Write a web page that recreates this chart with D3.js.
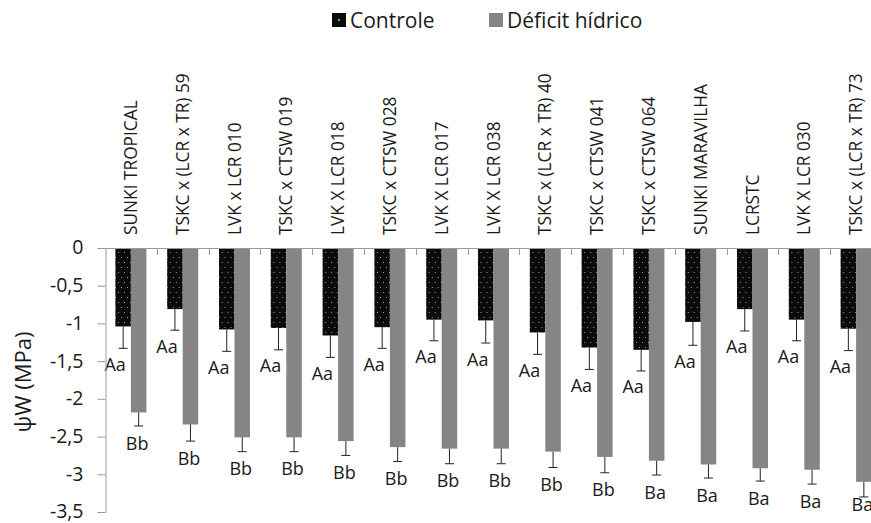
<!DOCTYPE html>
<html>
<head>
<meta charset="utf-8">
<script src="https://cdn.jsdelivr.net/npm/d3@7"></script>
<style>
  html, body { margin: 0; padding: 0; background: #fff; }
  svg { display: block; font-family: "Open Sans", sans-serif; }
</style>
</head>
<body>
<svg id="chart" width="871" height="523"></svg>
<script>
// Leaf water potential (ψW) per genotype, control vs. water deficit
const categories = [
  "SUNKI TROPICAL", "TSKC x (LCR x TR) 59", "LVK x LCR 010", "TSKC x CTSW 019",
  "LVK X LCR 018", "TSKC x CTSW 028", "LVK X LCR 017", "LVK X LCR 038",
  "TSKC x (LCR x TR) 40", "TSKC x CTSW 041", "TSKC x CTSW 064", "SUNKI MARAVILHA",
  "LCRSTC", "LVK X LCR 030", "TSKC x (LCR x TR) 73"
];
const seriesNames = ["Controle", "Déficit hídrico"];
const controle =      [-1.04, -0.81, -1.08, -1.06, -1.16, -1.05, -0.95, -0.96, -1.12, -1.32, -1.35, -0.98, -0.81, -0.95, -1.07];
const controleErr =   [0.29, 0.28, 0.29, 0.29, 0.29, 0.28, 0.28, 0.30, 0.29, 0.29, 0.28, 0.31, 0.29, 0.28, 0.29];
const deficit =       [-2.18, -2.34, -2.51, -2.51, -2.56, -2.64, -2.66, -2.66, -2.70, -2.77, -2.82, -2.87, -2.92, -2.94, -3.10];
const deficitErr =    [0.18, 0.22, 0.19, 0.19, 0.19, 0.19, 0.20, 0.20, 0.21, 0.21, 0.19, 0.18, 0.17, 0.19, 0.20];
const controleLetters = ["Aa", "Aa", "Aa", "Aa", "Aa", "Aa", "Aa", "Aa", "Aa", "Aa", "Aa", "Aa", "Aa", "Aa", "Aa"];
const deficitLetters  = ["Bb", "Bb", "Bb", "Bb", "Bb", "Bb", "Bb", "Bb", "Bb", "Bb", "Ba", "Ba", "Ba", "Ba", "Ba"];
const yTicks = [0, -0.5, -1, -1.5, -2, -2.5, -3, -3.5];
const yTitle = "ψW (MPa)";

const seriesValues = [controle, deficit];
const seriesErr = [controleErr, deficitErr];
const seriesLetters = [controleLetters, deficitLetters];

const W = 871, H = 523;
const svg = d3.select("#chart");
const TEXT = "#1a1a1a";
const AXIS = "#9a9a9a";
const GRAY = "#858585";

// dotted black fill for the control series
const defs = svg.append("defs");
const pat = defs.append("pattern")
  .attr("id", "dots").attr("patternUnits", "userSpaceOnUse")
  .attr("width", 6).attr("height", 10);
pat.append("rect").attr("width", 6).attr("height", 10).attr("fill", "#0b0b0b");
pat.append("rect").attr("x", 1).attr("y", 2).attr("width", 1).attr("height", 1).attr("fill", "#9a9a9a");
pat.append("rect").attr("x", 4).attr("y", 7).attr("width", 1).attr("height", 1).attr("fill", "#9a9a9a");
const fills = ["url(#dots)", GRAY];

// scales
const plotLeft = 105, plotTop = 248, plotBottom = 512;
const step = 51.8;
const x = d3.scaleBand().domain(categories)
  .range([plotLeft, plotLeft + step * categories.length]).paddingInner(0).paddingOuter(0);
const xs = d3.scaleBand().domain(seriesNames).range([0, x.bandwidth()])
  .paddingInner(0).paddingOuter(0.67);
const y = d3.scaleLinear().domain([0, -3.5]).range([plotTop, plotBottom]);

const locale = d3.formatLocale({ decimal: ",", thousands: ".", grouping: [3], currency: ["", ""], minus: "-" });
const fmt = locale.format("~g");

// bars
const groups = svg.append("g").selectAll("g")
  .data(categories).join("g")
  .attr("transform", d => `translate(${x(d)},0)`);

seriesNames.forEach((s, si) => {
  groups.append("rect")
    .attr("x", xs(s))
    .attr("y", y(0))
    .attr("width", xs.bandwidth())
    .attr("height", (d, i) => y(seriesValues[si][i]) - y(0))
    .attr("fill", fills[si]);
});

// x axis (at zero, ticks between categories pointing down)
const xAxisG = svg.append("g");
xAxisG.append("line")
  .attr("x1", plotLeft).attr("x2", W + 20)
  .attr("y1", y(0) + 0.5).attr("y2", y(0) + 0.5)
  .attr("stroke", AXIS).attr("stroke-width", 1);
xAxisG.selectAll("line.tick")
  .data(categories.slice(1)).join("line")
  .attr("class", "tick")
  .attr("x1", d => Math.round(x(d)) + 0.5).attr("x2", d => Math.round(x(d)) + 0.5)
  .attr("y1", y(0)).attr("y2", y(0) + 7)
  .attr("stroke", AXIS);

// error bars (minus direction only)
seriesNames.forEach((s, si) => {
  const eg = groups.append("g")
    .attr("stroke", "#222").attr("stroke-width", 1);
  const cx = xs(s) + xs.bandwidth() / 2;
  eg.append("line")
    .attr("x1", cx).attr("x2", cx)
    .attr("y1", (d, i) => y(seriesValues[si][i]))
    .attr("y2", (d, i) => y(seriesValues[si][i] - seriesErr[si][i]));
  eg.append("line")
    .attr("x1", cx - 4.5).attr("x2", cx + 4.5)
    .attr("y1", (d, i) => y(seriesValues[si][i] - seriesErr[si][i]))
    .attr("y2", (d, i) => y(seriesValues[si][i] - seriesErr[si][i]));
});

// significance letters below each error bar, kept inside the chart area
const letterDx = [-8, -1.5];
const letterDy = [22.5, 23.5];
const letterMaxBaseline = H - 12;
seriesNames.forEach((s, si) => {
  const cx = xs(s) + xs.bandwidth() / 2;
  groups.append("text")
    .attr("x", cx + letterDx[si])
    .attr("y", (d, i) => Math.min(letterMaxBaseline,
      y(seriesValues[si][i] - seriesErr[si][i]) + letterDy[si]))
    .attr("text-anchor", "middle")
    .attr("font-size", 18)
    .attr("fill", TEXT)
    .text((d, i) => seriesLetters[si][i]);
});

// y axis
const yAxis = d3.axisLeft(y).tickValues(yTicks).tickFormat(fmt).tickSize(8).tickSizeOuter(0);
const yAxisG = svg.append("g")
  .attr("transform", `translate(${plotLeft + 0.5},0)`)
  .call(yAxis);
yAxisG.select(".domain").attr("stroke", AXIS);
yAxisG.selectAll(".tick line").attr("stroke", AXIS);
yAxisG.selectAll(".tick text")
  .attr("x", -22)
  .attr("dy", "0.3em")
  .attr("font-family", "Open Sans, sans-serif")
  .attr("font-size", 19.5)
  .attr("fill", TEXT);

svg.append("text")
  .attr("transform", `translate(31,${(plotTop + plotBottom) / 2 + 2}) rotate(-90)`)
  .attr("text-anchor", "middle")
  .attr("font-size", 22)
  .attr("fill", TEXT)
  .text(yTitle);

// category labels, vertical, above the zero line
svg.append("g").selectAll("text")
  .data(categories).join("text")
  .attr("transform", d => `translate(${x(d) + x.bandwidth() / 2 + 6},235) rotate(-90)`)
  .attr("text-anchor", "start")
  .attr("font-size", 17.3)
  .attr("fill", TEXT)
  .text(d => d);

// legend
const legend = svg.append("g");
const legendItems = [
  { name: seriesNames[0], x: 332, fill: "#0b0b0b" },
  { name: seriesNames[1], x: 489, fill: GRAY }
];
legendItems.forEach((it, k) => {
  legend.append("rect")
    .attr("x", it.x).attr("y", 13).attr("width", 14).attr("height", 14)
    .attr("fill", it.fill);
  if (k === 0) {
    legend.append("rect").attr("x", it.x + 6).attr("y", 19).attr("width", 2).attr("height", 2).attr("fill", "#9a9a9a");
  }
  legend.append("text")
    .attr("x", it.x + 18).attr("y", 28)
    .attr("font-size", 21)
    .attr("fill", TEXT)
    .text(it.name);
});
</script>
</body>
</html>
